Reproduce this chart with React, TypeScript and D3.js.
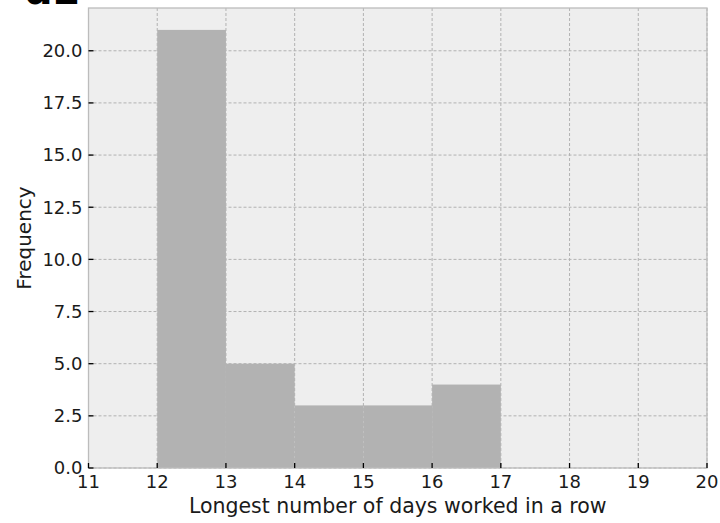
import { useEffect, useRef } from 'react'
import * as d3 from 'd3'

// histogram bins (left edge) and counts
const binStarts = [12, 13, 14, 15, 16]
const counts = [21, 5, 3, 3, 4]
const xTicks = [11, 12, 13, 14, 15, 16, 17, 18, 19, 20]
const yTicks = [0, 2.5, 5, 7.5, 10, 12.5, 15, 17.5, 20]

const W = 720
const H = 523
const M = { top: 8, right: 13, bottom: 55, left: 88.5 }
const FONT = 'DejaVu Sans, sans-serif'

export default function App() {
  const svgRef = useRef<SVGSVGElement>(null)

  useEffect(() => {
    if (!svgRef.current) return
    const svg = d3.select(svgRef.current)
    svg.selectAll('*').remove()

    const innerW = W - M.left - M.right
    const innerH = H - M.top - M.bottom
    const x = d3.scaleLinear().domain([11, 20]).range([0, innerW])
    const y = d3.scaleLinear().domain([0, 22.05]).range([innerH, 0])

    // panel title, cropped at the top edge like in the source image
    svg.append('text')
      .attr('x', 24).attr('y', 4)
      .attr('font-family', FONT).attr('font-weight', 'bold').attr('font-size', 40)
      .attr('fill', '#000')
      .text('d2')

    const g = svg.append('g').attr('transform', `translate(${M.left},${M.top})`)

    g.append('rect')
      .attr('width', innerW).attr('height', innerH)
      .attr('fill', '#eeeeee')

    // grid
    g.selectAll('.vgrid').data(xTicks).join('line')
      .attr('x1', d => x(d)).attr('x2', d => x(d))
      .attr('y1', 0).attr('y2', innerH)
      .attr('stroke', '#b2b2b2').attr('stroke-width', 1).attr('stroke-dasharray', '3,2')
    g.selectAll('.hgrid').data(yTicks).join('line')
      .attr('x1', 0).attr('x2', innerW)
      .attr('y1', d => y(d)).attr('y2', d => y(d))
      .attr('stroke', '#b2b2b2').attr('stroke-width', 1).attr('stroke-dasharray', '3,2')

    // bars
    g.selectAll('.bar').data(binStarts).join('rect')
      .attr('x', d => x(d))
      .attr('width', d => x(d + 1) - x(d))
      .attr('y', (_, i) => y(counts[i]))
      .attr('height', (_, i) => innerH - y(counts[i]))
      .attr('fill', '#b2b2b2')

    // frame
    g.append('rect')
      .attr('width', innerW).attr('height', innerH)
      .attr('fill', 'none').attr('stroke', '#bcbcbc').attr('stroke-width', 1.3)

    // ticks (inward)
    g.selectAll('.xt').data(xTicks).join('line')
      .attr('x1', d => x(d)).attr('x2', d => x(d))
      .attr('y1', innerH).attr('y2', innerH - 5)
      .attr('stroke', '#000').attr('stroke-width', 1.3)
    g.selectAll('.yt').data(yTicks).join('line')
      .attr('x1', 0).attr('x2', 5)
      .attr('y1', d => y(d)).attr('y2', d => y(d))
      .attr('stroke', '#000').attr('stroke-width', 1.3)

    g.selectAll('.xl').data(xTicks).join('text')
      .attr('x', d => x(d)).attr('y', innerH + 20)
      .attr('text-anchor', 'middle')
      .attr('font-family', FONT).attr('font-size', 18).attr('fill', '#1a1a1a')
      .text(d => String(d))
    g.selectAll('.yl').data(yTicks).join('text')
      .attr('x', -6).attr('y', d => y(d))
      .attr('dy', '0.35em')
      .attr('text-anchor', 'end')
      .attr('font-family', FONT).attr('font-size', 18).attr('fill', '#1a1a1a')
      .text(d => d3.format('.1f')(d))

    // axis labels
    g.append('text')
      .attr('x', innerW / 2).attr('y', innerH + 45)
      .attr('text-anchor', 'middle')
      .attr('font-family', FONT).attr('font-size', 20.5).attr('fill', '#1a1a1a')
      .text('Longest number of days worked in a row')
    g.append('text')
      .attr('transform', `translate(${-58},${innerH / 2}) rotate(-90)`)
      .attr('text-anchor', 'middle')
      .attr('font-family', FONT).attr('font-size', 20).attr('fill', '#1a1a1a')
      .text('Frequency')
  }, [])

  return (
    <svg
      ref={svgRef}
      width={W}
      height={H}
      style={{ position: 'fixed', left: 0, top: 0, display: 'block', background: '#fff' }}
    />
  )
}
